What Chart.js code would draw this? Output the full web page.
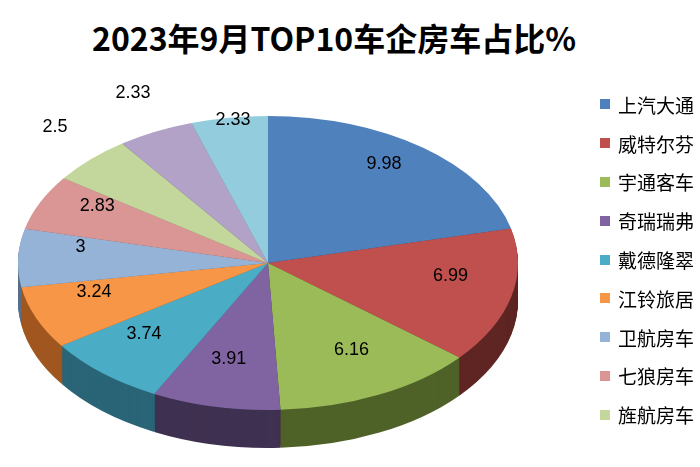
<!DOCTYPE html><html><head><meta charset="utf-8">
<script src="https://cdn.jsdelivr.net/npm/chart.js@4/dist/chart.umd.min.js"></script>
<style>body{margin:0;background:#fff;width:700px;height:467px;overflow:hidden;position:relative;font-family:"Noto Sans CJK SC",sans-serif}
#t{position:absolute;top:14px;left:0;width:668px;text-align:center;font-size:32px;font-weight:bold;color:#000;white-space:nowrap}
#lg{position:absolute;left:600px;top:85px}
.li{height:38.8px;font-size:19px;white-space:nowrap;display:flex;align-items:center}
.sq{width:10px;height:10px;margin-right:8px}
canvas{position:absolute;left:0;top:0}</style></head><body>
<div id="t">2023年9月TOP10车企房车占比%</div>
<canvas id="c" width="700" height="467"></canvas>
<div id="lg"></div>
<script>
const labels=["上汽大通","威特尔芬","宇通客车","奇瑞瑞弗","戴德隆翠","江铃旅居","卫航房车","七狼房车","旌航房车","其他1","其他2"];
const values=[9.98,6.99,6.16,3.91,3.74,3.24,3,2.83,2.5,2.33,2.33];
const colors=["#4f81bd","#c0504d","#9bbb59","#8064a2","#4bacc6","#f79646","#95b3d7","#d99694","#c3d69b","#b2a2c7","#93cddd"];
const sides=["#2f4d71","#5e2523","#4f6228","#3f3151","#2a6577","#a0571f","#5a6f8a","#8a5756","#77855b","#6c6180","#56808b"];
const legendCount=9;
const lg=document.getElementById('lg');
labels.slice(0,legendCount).forEach((l,i)=>{lg.innerHTML+=`<div class="li"><div class="sq" style="background:${colors[i]}"></div>${l}</div>`});
const TX=268,TY=263,RX=250,RY=147,DEPTH=38;
function xf(ctx,a,dy){const sx=RX/a.outerRadius,sy=RY/a.outerRadius;ctx.translate(TX,TY+dy);ctx.scale(sx,sy);ctx.translate(-a.x,-a.y);}
const p3d={id:'p3d',
beforeDatasetsDraw(ch){const ctx=ch.ctx;const arcs=ch.getDatasetMeta(0).data;
 for(let d=DEPTH;d>0;d--){arcs.forEach((a,i)=>{ctx.save();xf(ctx,a,d);ctx.beginPath();ctx.moveTo(a.x,a.y);ctx.arc(a.x,a.y,a.outerRadius,a.startAngle,a.endAngle);ctx.closePath();ctx.fillStyle=sides[i];ctx.fill();ctx.restore();});}
 arcs.forEach((a,i)=>{ctx.save();xf(ctx,a,0);ctx.beginPath();ctx.moveTo(a.x,a.y);ctx.arc(a.x,a.y,a.outerRadius,a.startAngle,a.endAngle);ctx.closePath();ctx.fillStyle=colors[i];ctx.fill();ctx.restore();});
 return false;},
afterDraw(ch){const ctx=ch.ctx;const arcs=ch.getDatasetMeta(0).data;ctx.save();ctx.font='18px "Liberation Sans",Arial';ctx.fillStyle='#000';ctx.textAlign='center';ctx.textBaseline='middle';
 arcs.forEach((a,i)=>{const m=(a.startAngle+a.endAngle)/2;let f=(i==8||i==9)?1.2:(i==10?0.9:0.75);const x=TX+Math.cos(m)*RX*f,y=TY-12+Math.sin(m)*RY*f;ctx.fillText(String(values[i]),x,y);});ctx.restore();}};
new Chart(document.getElementById('c'),{type:'pie',data:{labels,datasets:[{data:values,backgroundColor:colors,borderWidth:0}]},
options:{responsive:false,animation:false,plugins:{legend:{display:false},tooltip:{enabled:false}},layout:{padding:{left:20,right:200,top:20,bottom:20}}},plugins:[p3d]});
</script></body></html>
